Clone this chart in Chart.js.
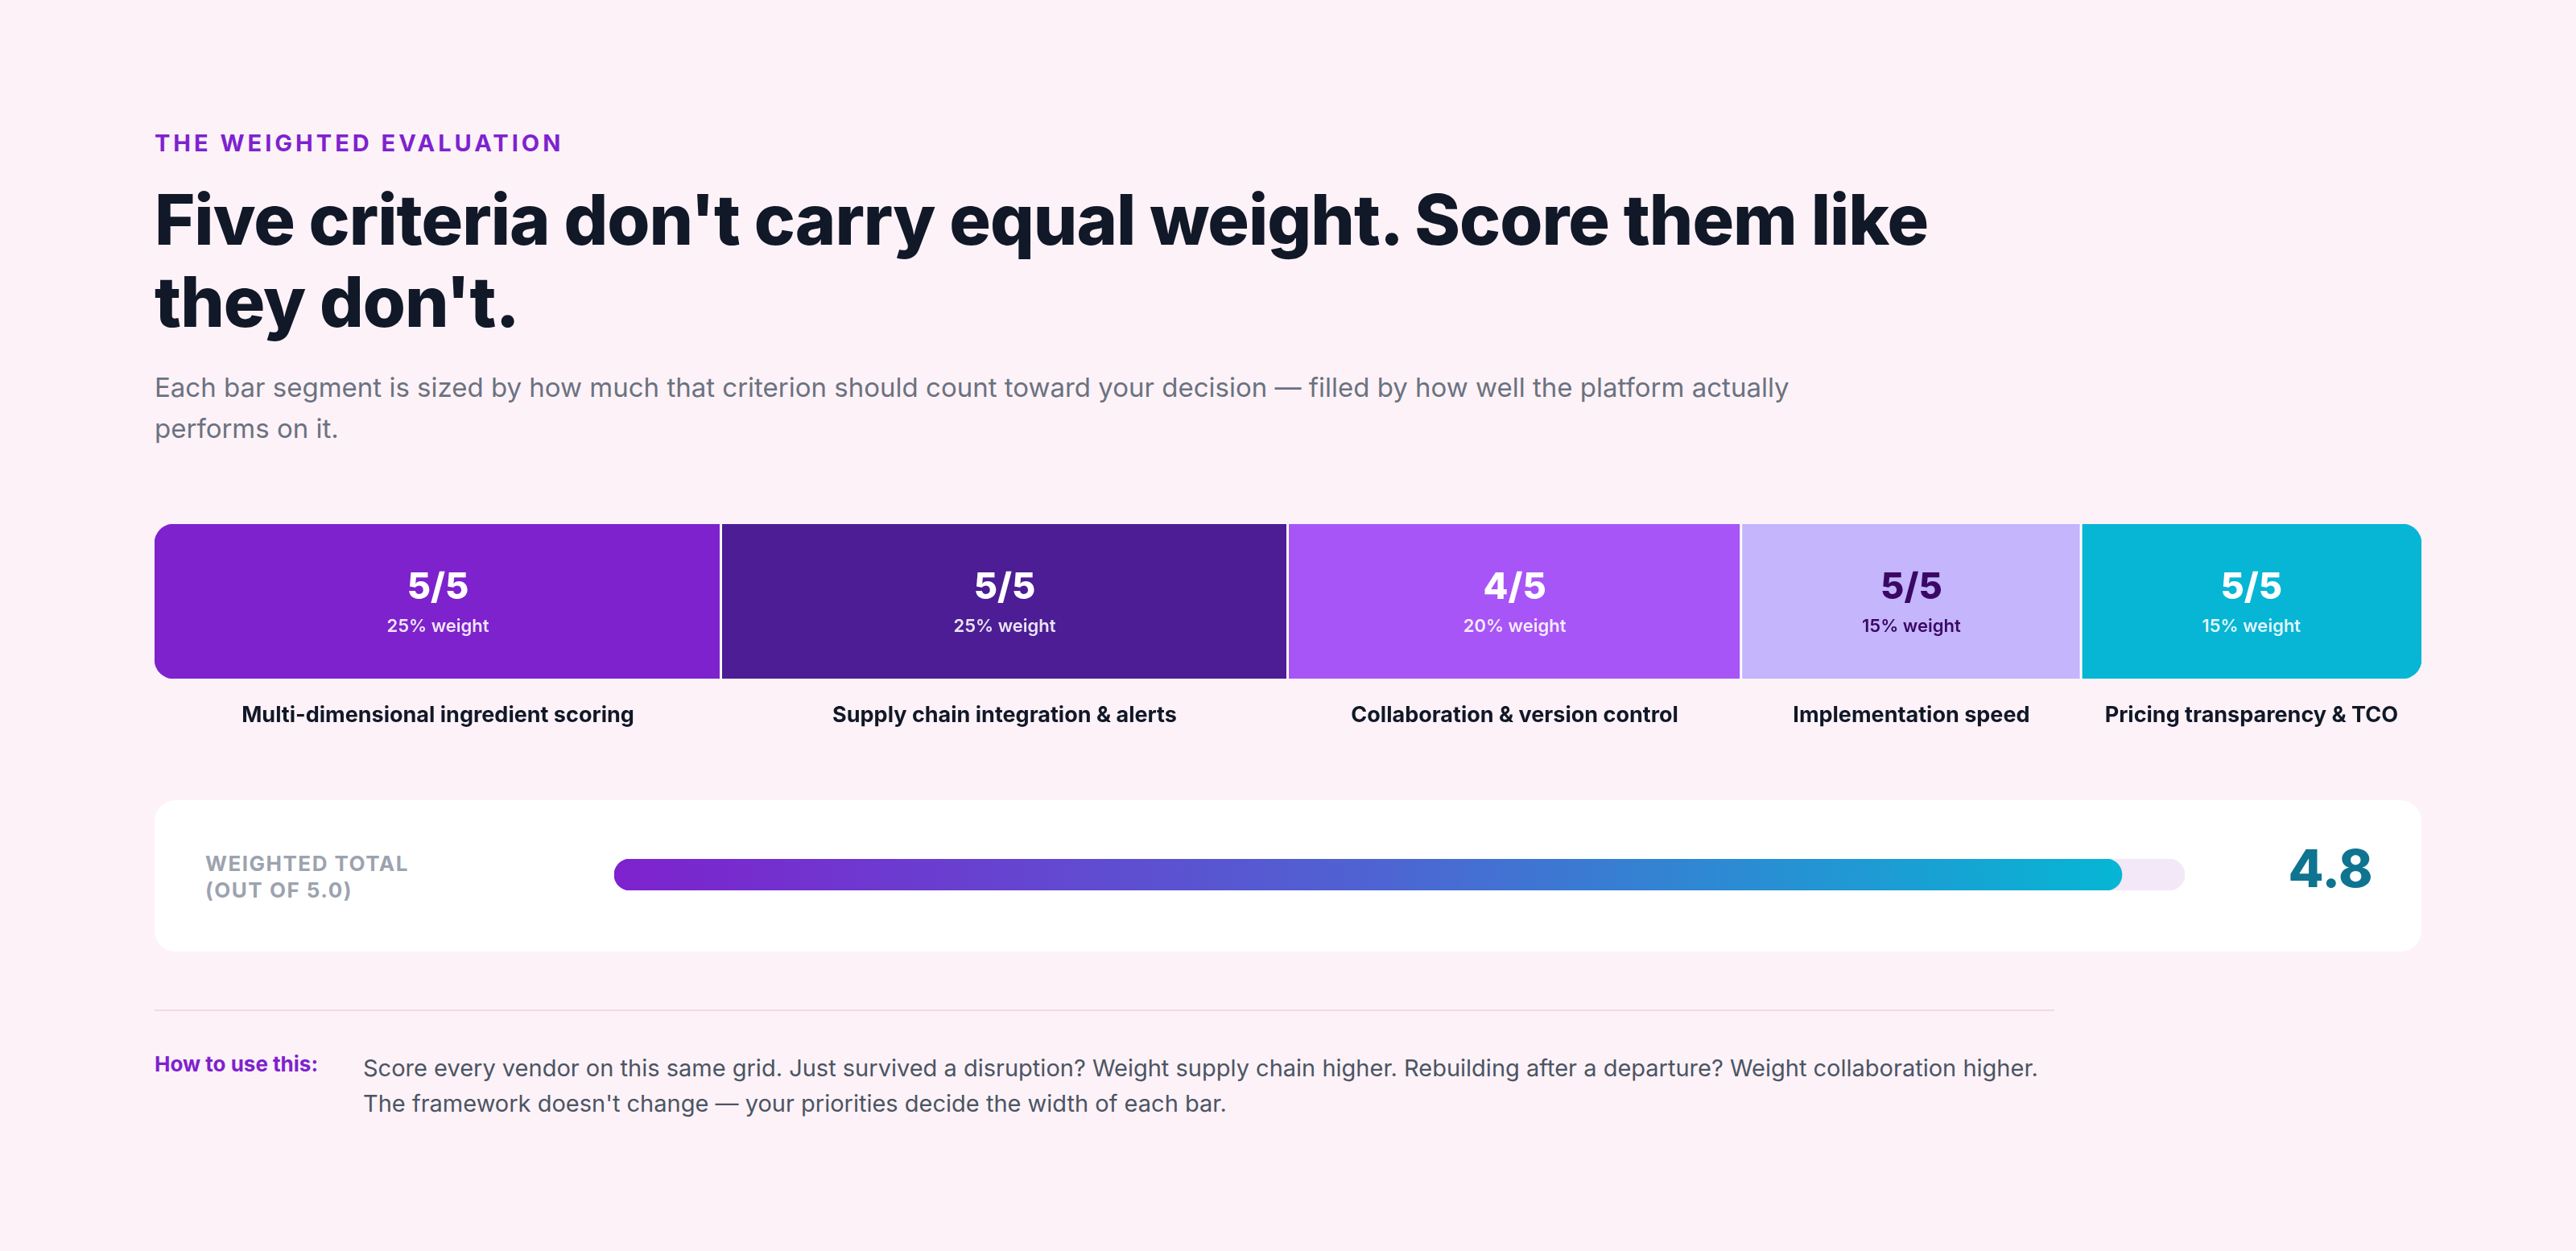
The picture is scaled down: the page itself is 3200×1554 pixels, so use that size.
<!DOCTYPE html>
<html><head><meta charset="utf-8">
<script src="https://cdn.jsdelivr.net/npm/chart.js@4"></script>
<style>
html,body{margin:0;padding:0;background:#fdf2f8;width:3200px;height:1554px;overflow:hidden;font-family:Inter,"Noto Sans",sans-serif;}
.abs{position:absolute;}
#eyebrow{left:192px;top:160px;font-size:29px;font-weight:700;letter-spacing:4px;color:#7e22ce;}
#title{left:192px;top:222px;width:2400px;font-size:86px;font-weight:800;line-height:102px;color:#111827;letter-spacing:-1px;}
#sub{left:192px;top:456px;width:2050px;font-size:33px;line-height:51px;color:#6b7280;}
#c1wrap{left:192px;top:651px;width:2816px;height:270px;}
#card{left:192px;top:994px;width:2816px;height:188px;background:#fff;border-radius:26px;}
#wt{left:255px;top:1056px;font-size:26px;font-weight:700;letter-spacing:1.5px;line-height:33px;color:#9ca3af;}
#c2wrap{left:763px;top:1067px;width:1951px;height:39px;}
#total{left:2780px;top:1040px;width:230px;text-align:center;font-size:64px;font-weight:800;color:#0e7490;}
#div{left:192px;top:1254px;width:2360px;height:2px;background:#f3d9e8;}
#how{left:192px;top:1306px;font-size:26px;font-weight:700;color:#7e22ce;}
#body{left:451px;top:1305px;width:2110px;font-size:29px;line-height:44px;color:#4b5563;}
</style></head><body>
<div id="eyebrow" class="abs">THE WEIGHTED EVALUATION</div>
<div id="title" class="abs">Five criteria don't carry equal weight. Score them like they don't.</div>
<div id="sub" class="abs">Each bar segment is sized by how much that criterion should count toward your decision — filled by how well the platform actually performs on it.</div>
<div id="c1wrap" class="abs"><canvas id="c1"></canvas></div>
<div id="card" class="abs"></div>
<div id="wt" class="abs">WEIGHTED TOTAL<br>(OUT OF 5.0)</div>
<div id="c2wrap" class="abs"><canvas id="c2"></canvas></div>
<div id="total" class="abs">4.8</div>
<div id="div" class="abs"></div>
<div id="how" class="abs">How to use this:</div>
<div id="body" class="abs">Score every vendor on this same grid. Just survived a disruption? Weight supply chain higher. Rebuilding after a departure? Weight collaboration higher. The framework doesn't change — your priorities decide the width of each bar.</div>
<script>
const criteria = ["Multi-dimensional ingredient scoring","Supply chain integration & alerts","Collaboration & version control","Implementation speed","Pricing transparency & TCO"];
const weights = [25,25,20,15,15];
const scores = [5,5,4,5,5];
const maxScore = 5;
const weightedTotal = 4.8;
const colors = ["#7e22ce","#4c1d95","#a855f7","#c4b5fd","#06b6d4"];
const textColors = ["#ffffff","#ffffff","#ffffff","#3b0764","#ffffff"];

const R = 24;
const segPlugin = {
  id:'seg',
  afterDatasetsDraw(chart){
    const ctx = chart.ctx;
    const ca = chart.chartArea;
    chart.data.datasets.forEach((ds,i)=>{
      const el = chart.getDatasetMeta(i).data[0];
      const left = el.base, right = el.x, cx = (left+right)/2;
      ctx.save();
      if(i>0){ctx.fillStyle='#ffffff';ctx.fillRect(left-2,ca.top,3,ca.bottom-ca.top);}
      ctx.textAlign='center';ctx.textBaseline='middle';
      ctx.fillStyle=textColors[i];
      ctx.font='800 45px Inter';
      ctx.fillText(scores[i]+'/'+maxScore,cx,ca.top+79);
      ctx.globalAlpha = textColors[i]==='#ffffff'?0.88:1;
      ctx.font='600 22px Inter';
      ctx.fillText(weights[i]+'% weight',cx,ca.top+127);
      ctx.globalAlpha=1;
      ctx.fillStyle='#111827';
      ctx.font='700 27px Inter';
      ctx.fillText(criteria[i],cx,ca.bottom+46);
      ctx.restore();
    });
  }
};
new Chart(document.getElementById('c1'),{
  type:'bar',
  data:{labels:['score'],datasets:criteria.map((c,i)=>({label:c,data:[weights[i]],backgroundColor:colors[i],borderSkipped:false,
    borderRadius: i===0?{topLeft:R,bottomLeft:R,topRight:0,bottomRight:0}:(i===criteria.length-1?{topLeft:0,bottomLeft:0,topRight:R,bottomRight:R}:0),
    barPercentage:1,categoryPercentage:1}))},
  options:{indexAxis:'y',responsive:true,maintainAspectRatio:false,animation:false,
    layout:{padding:{bottom:78}},
    plugins:{legend:{display:false},tooltip:{enabled:false}},
    scales:{x:{stacked:true,min:0,max:100,display:false},y:{stacked:true,display:false}}},
  plugins:[segPlugin]
});
new Chart(document.getElementById('c2'),{
  type:'bar',
  data:{labels:['total'],datasets:[
    {label:'score',data:[weightedTotal],order:1,borderSkipped:false,borderRadius:20,barPercentage:1,categoryPercentage:1,grouped:false,
     backgroundColor:(c)=>{const a=c.chart.chartArea;if(!a)return '#7e22ce';const el=c.chart.getDatasetMeta(0).data[0];
       const x1=a.left+(a.right-a.left)*weightedTotal/maxScore;
       const g=c.chart.ctx.createLinearGradient(a.left,0,x1,0);g.addColorStop(0,'#7e22ce');g.addColorStop(0.5,'#4f63d2');g.addColorStop(1,'#06b6d4');return g;}},
    {label:'track',data:[maxScore],order:2,backgroundColor:'#f3e8f8',borderSkipped:false,borderRadius:20,barPercentage:1,categoryPercentage:1,grouped:false}
  ]},
  options:{indexAxis:'y',responsive:true,maintainAspectRatio:false,animation:false,
    plugins:{legend:{display:false},tooltip:{enabled:false}},
    scales:{x:{min:0,max:maxScore,display:false},y:{display:false}}}
});
</script>
</body></html>
